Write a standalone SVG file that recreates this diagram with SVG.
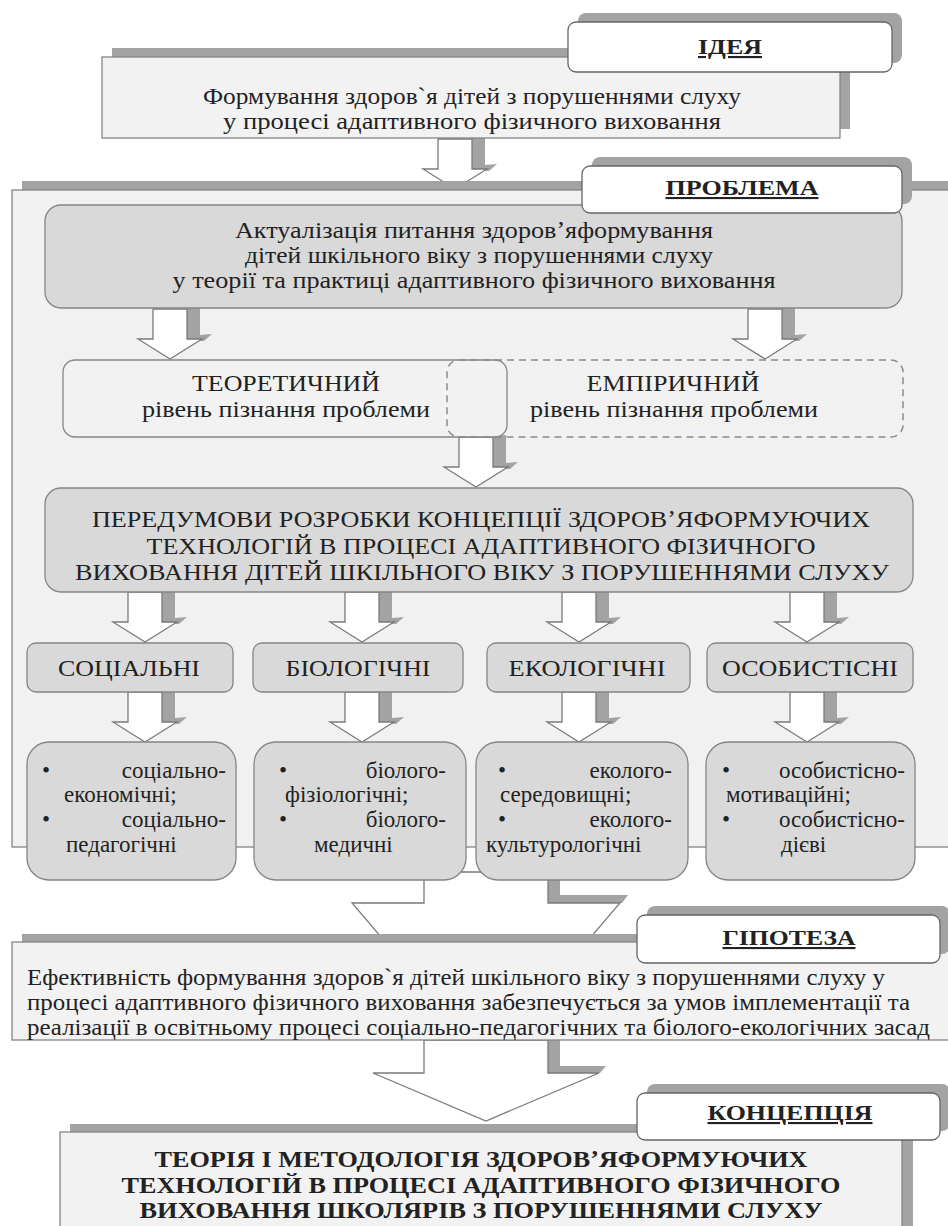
<svg xmlns="http://www.w3.org/2000/svg" xmlns:xlink="http://www.w3.org/1999/xlink" width="948" height="1226" viewBox="0 0 948 1226" font-family="'Liberation Serif', 'DejaVu Serif', serif">
<defs>
<style>
text{font-family:'Liberation Serif','DejaVu Serif',serif;font-size:23px;fill:#222}
.c{text-anchor:middle}
.e{text-anchor:end}
.b{font-weight:bold}
.u{text-decoration:underline}
.lt{font-size:21px}
.sh{fill:#a3a3a3}
.panel{fill:#f1f1f1;stroke:#858585;stroke-width:1.3}
.gbox{fill:#d9d9d9;stroke:#858585;stroke-width:1.3}
.lbox{fill:#f2f2f2;stroke:#858585;stroke-width:1.3}
.dash{fill:none;stroke:#8a8a8a;stroke-width:1.5;stroke-dasharray:7 5}
.lab{fill:#fff;stroke:#666;stroke-width:1.3}
.aw{fill:#fff;stroke:#7a7a7a;stroke-width:1.3}
</style>
<g id="arr">
<path class="sh" d="M17,-2 H30 V26 L42,25 L34,32 H17 Z"/>
<path class="aw" d="M-17,0 H17 V30 H32 L0,50 L-32,30 H-17 Z"/>
</g>
</defs>
<rect width="948" height="1226" fill="#fff"/>

<g id="connectors-top">
<use xlink:href="#arr" href="#arr" x="455" y="139"/>
</g>

<g id="idea">
<rect class="sh" x="112" y="48" width="738" height="81"/>
<rect class="lbox" x="102" y="57" width="738" height="81"/>
<text class="c" x="472" y="104" textLength="538" lengthAdjust="spacingAndGlyphs">Формування здоров`я дітей з порушеннями слуху</text>
<text class="c" x="472" y="129" textLength="498" lengthAdjust="spacingAndGlyphs">у процесі адаптивного фізичного виховання</text>
</g>
<g id="idea-label">
<rect class="sh" x="578" y="13" width="324" height="50" rx="8"/>
<rect class="lab" x="568" y="22" width="324" height="50" rx="8"/>
<text class="c b u lt" x="730" y="54" textLength="64" lengthAdjust="spacingAndGlyphs">ІДЕЯ</text>
</g>

<g id="problem">
<rect class="sh" x="22" y="181" width="940" height="660"/>
<rect class="panel" x="12" y="190" width="950" height="657"/>
</g>

<g id="connectors">
<use xlink:href="#arr" href="#arr" x="170" y="309"/>
<use xlink:href="#arr" href="#arr" x="765" y="309"/>
<use xlink:href="#arr" href="#arr" x="476" y="437"/>
<use xlink:href="#arr" href="#arr" x="145" y="592"/>
<use xlink:href="#arr" href="#arr" x="362" y="592"/>
<use xlink:href="#arr" href="#arr" x="579" y="592"/>
<use xlink:href="#arr" href="#arr" x="807" y="592"/>
<use xlink:href="#arr" href="#arr" x="145" y="692"/>
<use xlink:href="#arr" href="#arr" x="362" y="692"/>
<use xlink:href="#arr" href="#arr" x="579" y="692"/>
<use xlink:href="#arr" href="#arr" x="807" y="692"/>
</g>

<g id="actual">
<rect class="gbox" x="45" y="205" width="857" height="103" rx="16"/>
<text class="c" x="474" y="238" textLength="478" lengthAdjust="spacingAndGlyphs">Актуалізація питання здоровʼяформування</text>
<text class="c" x="479" y="263" textLength="468" lengthAdjust="spacingAndGlyphs">дітей шкільного віку з порушеннями слуху</text>
<text class="c" x="474" y="288" textLength="603" lengthAdjust="spacingAndGlyphs">у теорії та практиці адаптивного фізичного виховання</text>
</g>
<g id="problem-label">
<rect class="sh" x="592" y="157" width="320" height="47" rx="8"/>
<rect class="lab" x="582" y="166" width="320" height="47" rx="8"/>
<text class="c b u lt" x="742" y="195" textLength="153" lengthAdjust="spacingAndGlyphs">ПРОБЛЕМА</text>
</g>

<g id="theor">
<rect class="lbox" x="63" y="360" width="444" height="77" rx="12"/>
<text class="c" x="286" y="391" textLength="188" lengthAdjust="spacingAndGlyphs">ТЕОРЕТИЧНИЙ</text>
<text class="c" x="286" y="417" textLength="288" lengthAdjust="spacingAndGlyphs">рівень пізнання проблеми</text>
</g>
<g id="emp">
<rect class="dash" x="447" y="360" width="456" height="77" rx="12"/>
<text class="c" x="673" y="391" textLength="173" lengthAdjust="spacingAndGlyphs">ЕМПІРИЧНИЙ</text>
<text class="c" x="674" y="417" textLength="288" lengthAdjust="spacingAndGlyphs">рівень пізнання проблеми</text>
</g>

<g id="prereq">
<rect class="gbox" x="45" y="488" width="868" height="104" rx="16"/>
<text class="c" x="481" y="527" textLength="778" lengthAdjust="spacingAndGlyphs">ПЕРЕДУМОВИ РОЗРОБКИ КОНЦЕПЦІЇ ЗДОРОВʼЯФОРМУЮЧИХ</text>
<text class="c" x="481" y="554" textLength="669" lengthAdjust="spacingAndGlyphs">ТЕХНОЛОГІЙ В ПРОЦЕСІ АДАПТИВНОГО ФІЗИЧНОГО</text>
<text class="c" x="482" y="580" textLength="814" lengthAdjust="spacingAndGlyphs">ВИХОВАННЯ ДІТЕЙ ШКІЛЬНОГО ВІКУ З ПОРУШЕННЯМИ СЛУХУ</text>
</g>

<g id="cat-social">
<rect class="gbox" x="27" y="643" width="206" height="49" rx="9"/>
<text class="c" x="129" y="676" textLength="142" lengthAdjust="spacingAndGlyphs">СОЦІАЛЬНІ</text>
</g>
<g id="cat-bio">
<rect class="gbox" x="253" y="643" width="210" height="49" rx="9"/>
<text class="c" x="358" y="676" textLength="145" lengthAdjust="spacingAndGlyphs">БІОЛОГІЧНІ</text>
</g>
<g id="cat-eco">
<rect class="gbox" x="487" y="643" width="203" height="49" rx="9"/>
<text class="c" x="587" y="676" textLength="157" lengthAdjust="spacingAndGlyphs">ЕКОЛОГІЧНІ</text>
</g>
<g id="cat-pers">
<rect class="gbox" x="707" y="643" width="206" height="49" rx="9"/>
<text class="c" x="810" y="676" textLength="176" lengthAdjust="spacingAndGlyphs">ОСОБИСТІСНІ</text>
</g>

<g id="connectors-big">
<path class="sh" d="M548,872 H560 V895 L628,895 L622,903 H548 Z"/>
<path class="aw" d="M424,872 H548 V903 H620 L486,1060 L352,903 H424 Z"/>
<path class="sh" d="M548,1040 H560 V1066 L606,1066 L600,1073 H548 Z"/>
<path class="aw" d="M424,1040 H548 V1073 H599 L486,1121 L373,1073 H424 Z"/>
</g>

<g id="det-social">
<rect class="gbox" x="27" y="742" width="209" height="138" rx="22"/>
<text x="42" y="778">•</text>
<text class="e" x="226" y="778">соціально-</text>
<text x="64" y="802">економічні;</text>
<text x="42" y="827">•</text>
<text class="e" x="226" y="827">соціально-</text>
<text x="66" y="852">педагогічні</text>
</g>
<g id="det-bio">
<rect class="gbox" x="254" y="742" width="212" height="138" rx="22"/>
<text x="279" y="778">•</text>
<text class="e" x="446" y="778">біолого-</text>
<text x="285" y="802">фізіологічні;</text>
<text x="279" y="827">•</text>
<text class="e" x="446" y="827">біолого-</text>
<text x="314" y="852">медичні</text>
</g>
<g id="det-eco">
<rect class="gbox" x="476" y="742" width="212" height="138" rx="22"/>
<text x="498" y="778">•</text>
<text class="e" x="672" y="778">еколого-</text>
<text x="500" y="802">середовищні;</text>
<text x="498" y="827">•</text>
<text class="e" x="672" y="827">еколого-</text>
<text x="486" y="852">культурологічні</text>
</g>
<g id="det-pers">
<rect class="gbox" x="706" y="742" width="209" height="138" rx="22"/>
<text x="722" y="778">•</text>
<text class="e" x="905" y="778">особистісно-</text>
<text x="726" y="802">мотиваційні;</text>
<text x="722" y="827">•</text>
<text class="e" x="905" y="827">особистісно-</text>
<text x="781" y="852">дієві</text>
</g>

<g id="hyp">
<rect class="sh" x="22" y="934" width="940" height="98"/>
<rect class="lbox" x="12" y="942" width="950" height="98"/>
<text x="27" y="985" textLength="858" lengthAdjust="spacingAndGlyphs">Ефективність формування здоров`я дітей шкільного віку з порушеннями слуху у</text>
<text x="27" y="1010" textLength="883" lengthAdjust="spacingAndGlyphs">процесі адаптивного фізичного виховання забезпечується за умов імплементації та</text>
<text x="27" y="1035" textLength="903" lengthAdjust="spacingAndGlyphs">реалізації в освітньому процесі соціально-педагогічних та  біолого-екологічних засад</text>
</g>
<g id="hyp-label">
<rect class="sh" x="647" y="906" width="303" height="48" rx="8"/>
<rect class="lab" x="637" y="915" width="303" height="48" rx="8"/>
<text class="c b u lt" x="789" y="945" textLength="133" lengthAdjust="spacingAndGlyphs">ГІПОТЕЗА</text>
</g>

<g id="concept">
<rect class="sh" x="70" y="1124" width="843" height="110"/>
<rect class="lbox" x="60" y="1132" width="842" height="110"/>
<text class="c b" x="481" y="1167" textLength="653" lengthAdjust="spacingAndGlyphs">ТЕОРІЯ І МЕТОДОЛОГІЯ ЗДОРОВʼЯФОРМУЮЧИХ</text>
<text class="c b" x="481" y="1193" textLength="719" lengthAdjust="spacingAndGlyphs">ТЕХНОЛОГІЙ В ПРОЦЕСІ АДАПТИВНОГО ФІЗИЧНОГО</text>
<text class="c b" x="481" y="1218" textLength="683" lengthAdjust="spacingAndGlyphs">ВИХОВАННЯ ШКОЛЯРІВ З ПОРУШЕННЯМИ СЛУХУ</text>
</g>
<g id="concept-label">
<rect class="sh" x="647" y="1084" width="303" height="47" rx="8"/>
<rect class="lab" x="637" y="1093" width="303" height="47" rx="8"/>
<text class="c b u lt" x="790" y="1120" textLength="165" lengthAdjust="spacingAndGlyphs">КОНЦЕПЦІЯ</text>
</g>
</svg>
